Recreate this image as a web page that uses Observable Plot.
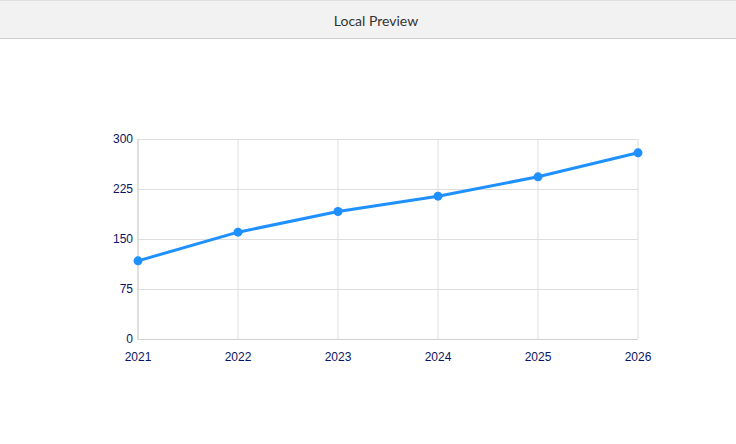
<!DOCTYPE html>
<html>
<head>
<meta charset="utf-8">
<script src="https://cdn.jsdelivr.net/npm/d3@7"></script>
<script src="https://cdn.jsdelivr.net/npm/@observablehq/plot@0.6"></script>
<style>
  html, body { margin: 0; padding: 0; background: #fff; }
  #header {
    background: #f2f2f2;
    border-top: 1px solid #e0e0e0;
    border-bottom: 1px solid #cccccc;
    font-family: Lato, "Noto Sans", sans-serif;
    font-size: 14px;
    color: #333;
    display: flex;
    align-items: center;
    justify-content: center;
    box-sizing: border-box;
    height: 39px;
    padding-left: 16px;
    padding-top: 2px;
  }
  #chart svg { display: block; }
</style>
</head>
<body>
<div id="header">Local Preview</div>
<div id="chart"></div>
<script>
const years = [2021, 2022, 2023, 2024, 2025, 2026];
const values = [118, 161, 192, 215, 244, 280];
const yTicks = [0, 75, 150, 225, 300];

const data = years.map((year, i) => ({year, value: values[i]}));

const chart = Plot.plot({
  width: 736,
  height: 405,
  marginTop: 100,
  marginBottom: 105,
  marginLeft: 137.5,
  marginRight: 98.5,
  style: {fontFamily: "Liberation Sans, Arial, sans-serif", fontSize: "12px", color: "#0b1464", background: "transparent"},
  x: {domain: [2021, 2026], ticks: years, tickFormat: "d", label: null, tickSize: 0, tickPadding: 13},
  y: {domain: [0, 300], ticks: yTicks, label: null, tickSize: 0, tickPadding: 5},
  marks: [
    Plot.gridX(years, {stroke: "#dddddd", strokeOpacity: 1}),
    Plot.gridY(yTicks, {stroke: "#dddddd", strokeOpacity: 1}),
    Plot.ruleX([2021], {stroke: "#d0d0d0"}),
    Plot.ruleY([0], {stroke: "#d0d0d0"}),
    Plot.axisX({ticks: years, tickFormat: "d", tickSize: 0, tickPadding: 13, fill: "#0b1464", label: null}),
    Plot.axisY({ticks: yTicks, tickSize: 0, tickPadding: 5, fill: "#0b1464", label: null}),
    Plot.line(data, {x: "year", y: "value", stroke: "#1e90ff", strokeWidth: 3}),
    Plot.dot(data, {x: "year", y: "value", fill: "#1e90ff", r: 4.5})
  ]
});
document.getElementById("chart").appendChild(chart);
</script>
</body>
</html>
